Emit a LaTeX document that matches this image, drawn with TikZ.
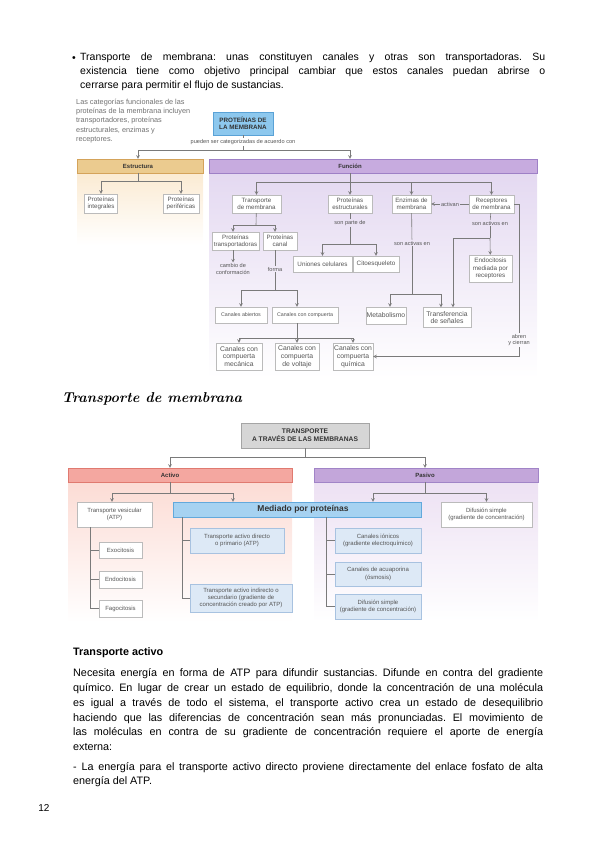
\documentclass[tikz,border=0pt]{standalone}
\usepackage{fontspec}
\setmainfont{Liberation Sans}
\newfontfamily\handfont{Latin Modern Roman}
\frenchspacing

\definecolor{txt}{HTML}{555555}
\definecolor{hdrtxt}{HTML}{333333}
\definecolor{captxt}{HTML}{707070}
\definecolor{boxedge}{HTML}{BBBBBB}
\definecolor{lngray}{HTML}{7A7A7A}
\definecolor{pfill}{HTML}{8DC8EE}
\definecolor{pedge}{HTML}{5AA2D6}
\definecolor{esthead}{HTML}{EBCB8F}
\definecolor{estedge}{HTML}{D4A35A}
\definecolor{estbody}{HTML}{FBEBD3}
\definecolor{funhead}{HTML}{C7ABDF}
\definecolor{funedge}{HTML}{9E80C6}
\definecolor{funbody}{HTML}{E4D9F1}
\definecolor{tfill}{HTML}{D6D6D6}
\definecolor{tedge}{HTML}{A5A5A5}
\definecolor{acthead}{HTML}{F4A7A0}
\definecolor{actedge}{HTML}{E07A70}
\definecolor{actbody}{HTML}{FCDCD5}
\definecolor{pashead}{HTML}{C3A6DA}
\definecolor{pasedge}{HTML}{A184C7}
\definecolor{pasbody}{HTML}{EDE1F3}
\definecolor{mfill}{HTML}{A6D2F1}
\definecolor{medge}{HTML}{62A9DC}
\definecolor{lbfill}{HTML}{DDE9F6}
\definecolor{lbedge}{HTML}{A8C2E0}

\begin{document}
\begin{tikzpicture}[%
    x=1pt,
    y=-1pt,
    >=stealth,
    wbox/.style={%
      draw=boxedge,
      fill=white,
      text=txt,
      inner sep=0.5pt,
      align=center,
      font=\fontsize{6.2}{7.2}\selectfont
    },
    sbox/.style={wbox, font=\fontsize{5.3}{6.3}\selectfont},
    gbox/.style={wbox, font=\fontsize{6.8}{7.8}\selectfont},
    mbox/.style={wbox, font=\fontsize{6.3}{7.3}\selectfont},
    vbox/.style={wbox, font=\fontsize{6}{7.4}\selectfont},
    lbox/.style={wbox, draw=lbedge, fill=lbfill, font=\fontsize{6}{7.4}\selectfont},
    lbl/.style={text=txt, inner sep=1pt, align=center, font=\fontsize{5.6}{6.5}\selectfont},
    hdr/.style={text=hdrtxt, inner sep=0pt, minimum height=14pt, font=\bfseries\fontsize{6}{7}\selectfont},
    ln/.style={draw=lngray, line width=0.6pt},
    arr/.style={ln, ->}
  ]
    \useasboundingbox (0,0) rectangle (599,848);

    % texto de arriba
    \node[anchor=base west, inner sep=0, font=\fontsize{10.5}{14}\selectfont] (bul) at (72,62) {\textbullet};
    \node[anchor=north west, inner sep=0, text width=465pt, align=justify, font=\fontsize{10.5}{14}\selectfont] (intro) at (80,52.5)
      {Transporte de membrana: unas constituyen canales y otras son transportadoras. Su\linebreak
       existencia tiene como objetivo principal cambiar que estos canales puedan abrirse o\linebreak
       cerrarse para permitir el flujo de sustancias.};
    \node[anchor=north west, inner sep=0, align=left, text=captxt, font=\fontsize{7.3}{9.2}\selectfont] (capt) at (76,99)
      {Las categorías funcionales de las\\proteínas de la membrana incluyen\\transportadores, proteínas\\estructurales, enzimas y\\receptores.};

    % paneles
    \fill[top color=estbody, bottom color=white] (77,173) rectangle (203,245);
    \draw[fill=esthead, draw=estedge] (77,159) rectangle (203,173);
    \fill[top color=funbody, bottom color=white] (209,173) rectangle (537,378);
    \draw[fill=funhead, draw=funedge] (209,159) rectangle (537,173);

    \node[wbox, fill=pfill, draw=pedge, text=hdrtxt, font=\bfseries\fontsize{6.3}{7.3}\selectfont, minimum width=60pt, minimum height=23pt] (prot) at (243,123.5) {PROTEÍNAS DE\\LA MEMBRANA};
    \node[lbl] (crit) at (243,142) {pueden ser categorizadas de acuerdo con};
    \coordinate (bus0) at (243,150);
    \node[hdr] (estr) at (138,166) {Estructura};
    \node[hdr] (fun) at (350,166) {Función};

    \node[wbox, minimum width=33pt, minimum height=19pt] (integ) at (101,203.5) {Proteínas\\integrales};
    \node[wbox, minimum width=36pt, minimum height=19pt] (perif) at (181,203.5) {Proteínas\\periféricas};
    \coordinate (ebus) at (138,181);

    \node[wbox, minimum width=49pt, minimum height=18pt] (tmem) at (256.5,204) {Transporte\\de membrana};
    \node[wbox, minimum width=44pt, minimum height=18pt] (pest) at (350,204) {Proteínas\\estructurales};
    \node[wbox, minimum width=39pt, minimum height=18pt] (enz) at (411.5,204) {Enzimas de\\membrana};
    \node[wbox, minimum width=45pt, minimum height=18pt] (rec) at (491.5,204) {Receptores\\de membrana};
    \coordinate (fbus) at (350,182);
    \node[lbl] (activan) at (450,204) {activan};

    \node[wbox, minimum width=47pt, minimum height=18pt] (ptrans) at (235.5,241) {Proteínas\\transportadoras};
    \node[wbox, minimum width=34pt, minimum height=18pt] (pcanal) at (280,241) {Proteínas\\canal};
    \coordinate (tbus) at (256,225);
    \node[lbl] (cambio) at (233,269) {cambio de\\conformación};
    \node[lbl] (forma) at (275,269) {forma};
    \coordinate (cbus) at (275,290);

    \node[sbox, minimum width=52pt, minimum height=16pt] (cabier) at (241,315) {Canales abiertos};
    \node[sbox, minimum width=66pt, minimum height=16pt] (ccomp) at (305,315) {Canales con compuerta};
    \coordinate (gbus) at (297,338);
    \node[gbox, minimum width=46pt, minimum height=27pt] (cmec) at (239,356.5) {Canales con\\compuerta\\mecánica};
    \node[gbox, minimum width=44pt, minimum height=27pt] (cvolt) at (297,356.5) {Canales con\\compuerta\\de voltaje};
    \node[gbox, minimum width=40pt, minimum height=27pt] (cquim) at (353,356.5) {Canales con\\compuerta\\química};

    \node[lbl] (parte) at (350,223) {son parte de};
    \coordinate (sbus) at (350,244);
    \node[mbox, minimum width=59pt, minimum height=16pt] (union) at (322.5,264) {Uniones celulares};
    \node[mbox, minimum width=46pt, minimum height=16pt] (cito) at (376,264) {Citoesqueleto};

    \node[lbl] (sactivas) at (412,243) {son activas en};
    \coordinate (mbus) at (412,294);
    \node[gbox, minimum width=40pt, minimum height=17pt] (metab) at (386,315.5) {Metabolismo};
    \node[gbox, minimum width=48pt, minimum height=20pt] (transf) at (447,317.5) {Transferencia\\de señales};

    \node[lbl] (sactivos) at (490,223) {son activos en};
    \coordinate (rbus) at (490,238);
    \node[mbox, minimum width=43pt, minimum height=27pt] (endo) at (490.5,268.5) {Endocitosis\\mediada por\\receptores};
    \coordinate (rc1) at (519,204);
    \node[lbl] (abren) at (519,340) {abren\\y cierran};

    \draw[ln] (prot) -- (crit);
    \draw[ln] (crit) -- (bus0);
    \draw[arr] (bus0) -| (estr);
    \draw[arr] (bus0) -| (fun);
    \draw[ln] (estr) -- (ebus);
    \draw[arr] (ebus) -| (integ);
    \draw[arr] (ebus) -| (perif);
    \draw[ln] (fun) -- (fbus);
    \draw[arr] (fbus) -| (tmem);
    \draw[arr] (fbus) -- (pest);
    \draw[arr] (fbus) -| (enz);
    \draw[arr] (fbus) -| (rec);
    \draw[ln] (rec) -- (activan);
    \draw[arr] (activan) -- (enz);
    \draw[ln] (tmem) -- (tbus);
    \draw[arr] (tbus) -| ([xshift=-2.5pt]ptrans.north);
    \draw[arr] (tbus) -| ([xshift=-5pt]pcanal.north);
    \draw[arr] (ptrans.south -| cambio) -- (cambio);
    \draw[ln] ([xshift=-5pt]pcanal.south) -- (forma);
    \draw[ln] (forma) -- (cbus);
    \draw[arr] (cbus) -| (cabier);
    \draw[arr] (cbus) -| ([xshift=-8pt]ccomp.north);
    \draw[ln] ([xshift=-8pt]ccomp.south) -- (gbus);
    \draw[arr] (gbus) -| (cmec);
    \draw[arr] (gbus) -- (cvolt);
    \draw[arr] (gbus) -| (cquim);
    \draw[ln] (pest) -- (parte);
    \draw[ln] (parte) -- (sbus);
    \draw[arr] (sbus) -| (union);
    \draw[arr] (sbus) -| (cito);
    \draw[ln] (enz) -- (sactivas);
    \draw[ln] (sactivas) -- (mbus);
    \draw[arr] (mbus) -| ([xshift=4pt]metab.north);
    \draw[arr] (mbus) -| ([xshift=-6pt]transf.north);
    \draw[ln] (rec) -- (sactivos);
    \draw[ln] (sactivos) -- (rbus);
    \draw[arr] (rbus) -- (endo);
    \draw[arr] (rbus) -| ([xshift=6pt]transf.north);
    \draw[ln] (rec) -- (rc1) -- (abren);
    \draw[arr] (abren) |- (cquim);

    % segundo esquema
    \node[font=\handfont\bfseries\itshape\fontsize{14.3}{17}\selectfont] (titulo) at (152,399) {Transporte de membrana};

    \fill[top color=actbody, bottom color=white] (68,482) rectangle (292,622);
    \draw[fill=acthead, draw=actedge] (68,468) rectangle (292,482);
    \fill[top color=pasbody, bottom color=white] (314,482) rectangle (538,622);
    \draw[fill=pashead, draw=pasedge] (314,468) rectangle (538,482);

    \node[wbox, fill=tfill, draw=tedge, text=hdrtxt, font=\bfseries\fontsize{6.7}{8}\selectfont, minimum width=128pt, minimum height=25pt] (trans) at (305,435.5) {TRANSPORTE\\A TRAVÉS DE LAS MEMBRANAS};
    \coordinate (tbus2) at (305,457);
    \node[hdr] (activo) at (170,475) {Activo};
    \node[hdr] (pasivo) at (425,475) {Pasivo};
    \coordinate (abus) at (170,493);
    \coordinate (pbus) at (425,493);

    \node[vbox, minimum width=75pt, minimum height=25pt] (tves) at (114.5,514.5) {Transporte vesicular\\(ATP)};
    \node[vbox, minimum width=43pt, minimum height=16pt] (exo) at (120.5,550) {Exocitosis};
    \node[vbox, minimum width=43pt, minimum height=17pt] (endoc) at (120.5,579.5) {Endocitosis};
    \node[vbox, minimum width=43pt, minimum height=17pt] (fago) at (120.5,608.5) {Fagocitosis};

    \node[wbox, fill=mfill, draw=medge, text=hdrtxt, font=\bfseries\fontsize{8.5}{9.5}\selectfont, minimum width=248pt, minimum height=15pt] (mediado) at (297,509.5) {\hspace*{12pt}Mediado por proteínas};
    \node[lbox, minimum width=94pt, minimum height=25pt] (tdir) at (237,540.5) {Transporte activo directo\\o primario (ATP)};
    \node[lbox, minimum width=102pt, minimum height=28pt] (tind) at (241,598) {Transporte activo indirecto o\\secundario (gradiente de\\concentración creado por ATP)};
    \node[lbox, minimum width=86pt, minimum height=25pt] (cion) at (378,540.5) {Canales iónicos\\(gradiente electroquímico)};
    \node[lbox, minimum width=86pt, minimum height=24pt] (acua) at (378,574) {Canales de acuaporina\\(ósmosis)};
    \node[lbox, minimum width=86pt, minimum height=25pt] (dsim) at (378,606.5) {Difusión simple\\(gradiente de concentración)};
    \node[vbox, minimum width=91pt, minimum height=25pt] (dsimp) at (486.5,514.5) {Difusión simple\\(gradiente de concentración)};

    \draw[ln] (trans) -- (tbus2);
    \draw[arr] (tbus2) -| (activo);
    \draw[arr] (tbus2) -| (pasivo);
    \draw[ln] (activo) -- (abus);
    \draw[arr] (abus) -| ([xshift=-2.5pt]tves.north);
    \draw[arr] (abus) -| ([xshift=-64pt]mediado.north);
    \draw[ln] ([xshift=-24pt]tves.south) |- (exo);
    \draw[ln] ([xshift=-24pt]tves.south) |- (endoc);
    \draw[ln] ([xshift=-24pt]tves.south) |- (fago);
    \draw[ln] ([xshift=-115pt]mediado.south) |- (tdir);
    \draw[ln] ([xshift=-115pt]mediado.south) |- (tind);
    \draw[ln] ([xshift=29pt]mediado.south) |- (cion);
    \draw[ln] ([xshift=29pt]mediado.south) |- (acua);
    \draw[ln] ([xshift=29pt]mediado.south) |- (dsim);
    \draw[ln] (pasivo) -- (pbus);
    \draw[arr] (pbus) -| ([xshift=76pt]mediado.north);
    \draw[arr] (pbus) -| (dsimp);

    % texto de abajo
    \node[anchor=base west, inner sep=0, font=\bfseries\fontsize{10.8}{14}\selectfont] (acttit) at (73,655) {Transporte activo};
    \node[anchor=north west, inner sep=0, text width=470pt, align=justify, font=\fontsize{10.8}{14.8}\selectfont] (parr) at (73,668.5)
      {Necesita energía en forma de ATP para difundir sustancias. Difunde en contra del gradiente\linebreak
       químico. En lugar de crear un estado de equilibrio, donde la concentración de una molécula\linebreak
       es igual a través de todo el sistema, el transporte activo crea un estado de desequilibrio\linebreak
       haciendo que las diferencias de concentración sean más pronunciadas. El movimiento de\linebreak
       las moléculas en contra de su gradiente de concentración requiere el aporte de energía\linebreak
       externa:};
    \node[anchor=north west, inner sep=0, text width=470pt, align=justify, font=\fontsize{10.8}{14}\selectfont] (nota) at (73,762.5)
      {\hangindent=7pt\hangafter=1 - La energía para el transporte activo directo proviene directamente del enlace fosfato de alta\linebreak
       energía del ATP.};
    \node[font=\fontsize{10}{12}\selectfont] (pag) at (44,808) {12};
\end{tikzpicture}
\end{document}
